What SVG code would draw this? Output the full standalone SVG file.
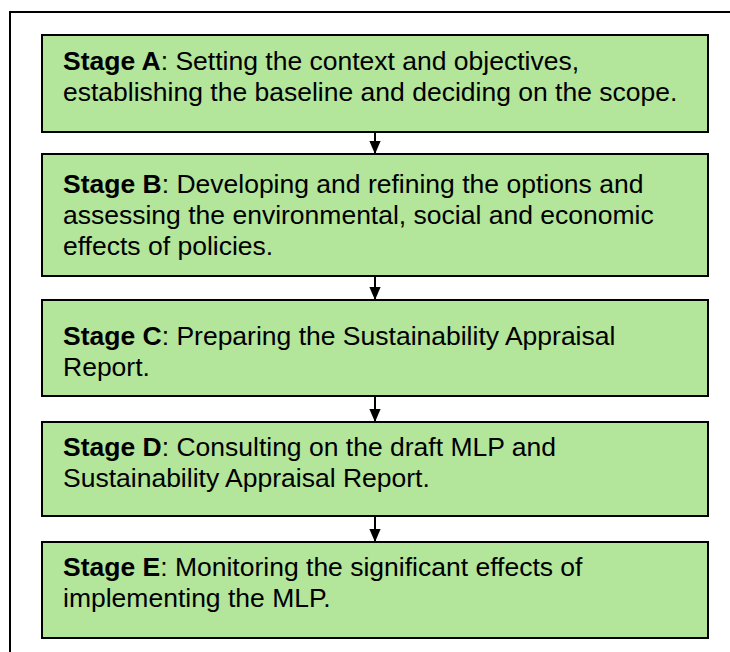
<svg xmlns="http://www.w3.org/2000/svg" width="730" height="652" viewBox="0 0 730 652">
  <style>
    .frame { fill: #ffffff; stroke: #000000; stroke-width: 2; }
    .stage rect { fill: #b3e59b; stroke: #000000; stroke-width: 2; }
    .stage text { font-family: "Liberation Sans", Arial, sans-serif; font-size: 26.5px; fill: #000000; }
    .stage .b { font-weight: bold; }
    .link { stroke: #000000; stroke-width: 2; fill: none; }
  </style>
  <defs>
    <marker id="arrow" viewBox="0 0 15 13" refX="15" refY="6.5" markerWidth="13" markerHeight="15" markerUnits="userSpaceOnUse" orient="auto">
      <path d="M0,0 L15,6.5 L0,13 z" fill="#000000"/>
    </marker>
  </defs>

  <!-- outer frame, continues past the bottom and right edges -->
  <rect class="frame" x="10" y="12" width="740" height="700"/>

  <!-- connectors between stages -->
  <g id="connectors">
    <path class="link" d="M375,132 V154" marker-end="url(#arrow)"/>
    <path class="link" d="M375,276 V300" marker-end="url(#arrow)"/>
    <path class="link" d="M375,396 V422" marker-end="url(#arrow)"/>
    <path class="link" d="M375,516 V542" marker-end="url(#arrow)"/>
  </g>

  <g id="stage-a" class="stage">
    <rect x="42" y="35" width="666" height="97"/>
    <text x="63" y="70"><tspan class="b">Stage A</tspan>: Setting the context and objectives,</text>
    <text x="63" y="101">establishing the baseline and deciding on the scope.</text>
  </g>

  <g id="stage-b" class="stage">
    <rect x="42" y="154" width="666" height="122"/>
    <text x="63" y="193"><tspan class="b">Stage B</tspan>: Developing and refining the options and</text>
    <text x="63" y="224">assessing the environmental, social and economic</text>
    <text x="63" y="255">effects of policies.</text>
  </g>

  <g id="stage-c" class="stage">
    <rect x="42" y="300" width="666" height="96"/>
    <text x="63" y="345"><tspan class="b">Stage C</tspan>: Preparing the Sustainability Appraisal</text>
    <text x="63" y="376">Report.</text>
  </g>

  <g id="stage-d" class="stage">
    <rect x="42" y="422" width="666" height="94"/>
    <text x="63" y="456"><tspan class="b">Stage D</tspan>: Consulting on the draft MLP and</text>
    <text x="63" y="487">Sustainability Appraisal Report.</text>
  </g>

  <g id="stage-e" class="stage">
    <rect x="42" y="542" width="666" height="96"/>
    <text x="63" y="576"><tspan class="b">Stage E</tspan>: Monitoring the significant effects of</text>
    <text x="63" y="607">implementing the MLP.</text>
  </g>
</svg>
